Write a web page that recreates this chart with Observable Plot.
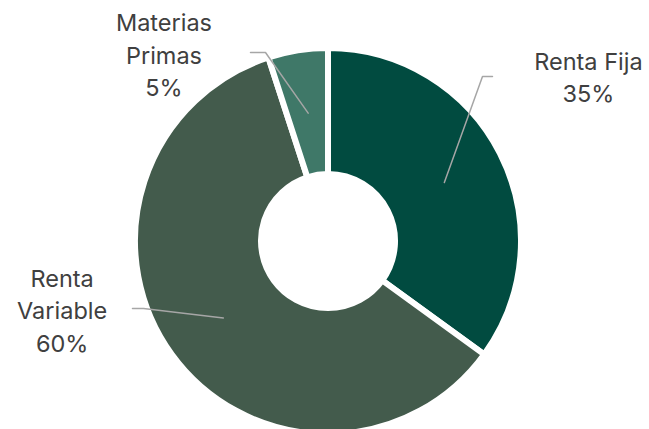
<!DOCTYPE html>
<html><head><meta charset="utf-8">
<script src="https://cdn.jsdelivr.net/npm/d3@7"></script>
<script src="https://cdn.jsdelivr.net/npm/@observablehq/plot@0.6"></script>
<style>body{margin:0;background:#fff;} svg{display:block;}</style>
</head><body><div id="chart"></div>
<script>
// Data
const categories = ["Renta Fija", "Renta Variable", "Materias Primas"];
const categoryLines = ["Renta Fija", "Renta\nVariable", "Materias\nPrimas"];
const shares = [35, 60, 5];
const colors = ["#014b40", "#435b4c", "#3f7868"];

// Label placement (chart units: 1 = outer radius, origin = donut centre)
const labelX = [1.368, -1.402, -0.866];
const labelY = [0.874, -0.355, 0.992];
const elbowX = [0.8105, -0.9737, -0.3316];
const elbowY = [0.868, -0.3526, 0.9947];
const endX = [0.863, -1.0316, -0.4105];
const endY = [0.868, -0.3526, 0.9947];

const innerFrac = 70 / 190;
const W = 649, H = 429;

const data = categories.map((c, i) => ({cat: c, share: shares[i], color: colors[i]}));
const arcs = d3.pie().sort(null).value(d => d.share)(data);
const midR = (1 + innerFrac) / 2;

const labels = data.map((d, i) => ({
  cat: d.cat, x: labelX[i], y: labelY[i], text: `${categoryLines[i]}\n${d.share}%`
}));
const leaders = arcs.flatMap((a, i) => {
  const m = (a.startAngle + a.endAngle) / 2;
  return [
    {cat: data[i].cat, x: midR * Math.sin(m), y: midR * Math.cos(m)},
    {cat: data[i].cat, x: elbowX[i], y: elbowY[i]},
    {cat: data[i].cat, x: endX[i], y: endY[i]}
  ];
});

function donut(index, scales) {
  const cx = scales.x(0), cy = scales.y(0);
  const R = scales.x(1) - cx;
  const sw = 6;
  const arc = d3.arc().innerRadius(R * innerFrac - sw / 2).outerRadius(R + sw / 2);
  const g = d3.create("svg:g").attr("transform", `translate(${cx},${cy})`);
  g.selectAll("path").data(arcs).join("path")
    .attr("d", arc)
    .attr("fill", d => d.data.color)
    .attr("stroke", "white")
    .attr("stroke-width", sw)
    .attr("stroke-linejoin", "miter");
  return g.node();
}

const chart = Plot.plot({
  width: W, height: H,
  margin: 0,
  x: {domain: [-328 / 190, 321 / 190], axis: null},
  y: {domain: [-188 / 190, 241 / 190], axis: null},
  style: {background: "white"},
  marks: [
    donut,
    Plot.line(leaders, {x: "x", y: "y", z: "cat", stroke: "#a6a6a6", strokeWidth: 1.5}),
    Plot.text(labels, {x: "x", y: "y", text: "text", fontSize: 23.5, lineHeight: 1.4,
      fill: "#404040", fontFamily: "Inter, 'Open Sans', sans-serif"})
  ]
});
document.getElementById("chart").append(chart);
</script>
</body></html>
